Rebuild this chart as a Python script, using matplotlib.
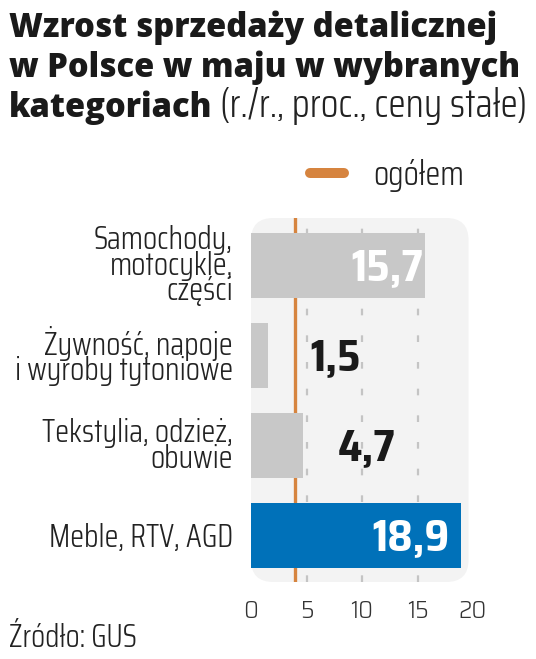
import matplotlib
matplotlib.use("Agg")
import matplotlib.pyplot as plt
from matplotlib.patches import FancyBboxPatch
from matplotlib.lines import Line2D

categories = ["Samochody,\nmotocykle,\nczęści",
              "Żywność, napoje\ni wyroby tytoniowe",
              "Tekstylia, odzież,\nobuwie",
              "Meble, RTV, AGD"]
values = [15.7, 1.5, 4.7, 18.9]
value_labels = ["15,7", "1,5", "4,7", "18,9"]
overall = 4.0
xticks = [0, 5, 10, 15, 20]

bar_colors = ["#c8c8c8", "#c8c8c8", "#c8c8c8", "#0071b9"]
label_inside = [True, False, False, True]
label_pad = [-2, 43, 35, -11]   # px from bar end
orange = "#d6843f"

TITLE_FONT = "Open Sans"
LIGHT = "Saira Condensed"
SEMI = "Saira SemiCondensed"

W, H = 536, 659
fig = plt.figure(figsize=(W / 100, H / 100), dpi=100)
renderer = fig.canvas.get_renderer()


def fx(x):
    return x / W


def fy(y):
    return 1 - y / H


def fit(t, width):
    # scale font so the text is `width` pixels wide
    w = t.get_window_extent(renderer).width
    t.set_fontsize(t.get_fontsize() * width / w)
    return t.get_fontsize()


# title
t1 = fig.text(fx(9), fy(37), "Wzrost sprzedaży detalicznej", family=TITLE_FONT, weight=800,
              fontsize=22, color="#1a1a1a", va="baseline")
tsize = fit(t1, 488)
fig.text(fx(9), fy(77), "w Polsce w maju w wybranych", family=TITLE_FONT, weight=800,
         fontsize=tsize, color="#1a1a1a", va="baseline")
t3 = fig.text(fx(9), fy(117), "kategoriach", family=TITLE_FONT, weight=800,
              fontsize=tsize, color="#1a1a1a", va="baseline")
r = t3.get_window_extent(renderer)
sub = fig.text((r.x1 + 8) / W, fy(117), "(r./r., proc., ceny stałe)", family=LIGHT, weight=300,
               fontsize=24, color="#222222", va="baseline")
fit(sub, 529 - r.x1 - 8)

# legend
fig.add_artist(Line2D([fx(310), fx(344)], [fy(173), fy(173)], color=orange, lw=7.2,
                      solid_capstyle="round", transform=fig.transFigure))
leg = fig.text(fx(373), fy(185), "ogółem", family=LIGHT, weight=300, fontsize=24,
               color="#222222", va="baseline")
fit(leg, 91)

# axes
ax = fig.add_axes([fx(251), fy(582), 222 / W, 364 / H])
ax.set_xlim(0, 20)
ax.set_ylim(3 + 46.5 / 90, -47 / 90)
for s in ax.spines.values():
    s.set_visible(False)
ax.set_facecolor("none")

panel = FancyBboxPatch((0, 0), 0.98, 1, boxstyle="round,pad=0,rounding_size=0.1",
                       mutation_aspect=222 / 364, transform=ax.transAxes,
                       facecolor="#f3f3f3", edgecolor="none", zorder=0)
ax.add_patch(panel)

for t in xticks[1:-1]:
    ax.axvline(t, color="#c4c4c4", lw=1.6, ls=(0, (3, 9)), zorder=1)
ax.axvline(overall, color=orange, lw=2.4, zorder=2)

ypos = list(range(len(values)))
ax.barh(ypos, values, height=0.72, color=bar_colors, zorder=3)

probe = fig.text(0, 0, "18,9", family=SEMI, weight=700, fontsize=30)
vsize = fit(probe, 77)
probe.remove()
for y, v, lab, inside, pad in zip(ypos, values, value_labels, label_inside, label_pad):
    ax.annotate(lab, (v, y), xytext=(pad, -15), textcoords="offset pixels",
                ha="right" if inside else "left", va="baseline",
                family=SEMI, weight=700, fontsize=vsize,
                color="white" if inside else "#1a1a1a", zorder=4)

probe = fig.text(0, 0, "Meble, RTV, AGD", family=LIGHT, weight=300, fontsize=20)
csize = fit(probe, 184)
probe.remove()
probe = fig.text(0, 0, "10", family=SEMI, weight=300, fontsize=17)
ksize = fit(probe, 23)
probe.remove()

ax.set_xticks(xticks)
ax.set_xticklabels([str(t) for t in xticks], family=SEMI, weight=300, fontsize=ksize,
                   color="#333333")
ax.set_yticks(ypos)
ax.set_yticklabels(categories, family=LIGHT, weight=300, fontsize=csize, color="#222222")
for lbl in ax.get_yticklabels():
    lbl.set_linespacing(0.8)
ax.tick_params(axis="x", length=0, pad=12)
ax.tick_params(axis="y", length=0, pad=13)

src = fig.text(fx(9), fy(647), "Źródło: GUS", family=LIGHT, weight=300, fontsize=20,
               color="#222222", va="baseline")
fit(src, 128)

fig.savefig("out.png", dpi=100)
